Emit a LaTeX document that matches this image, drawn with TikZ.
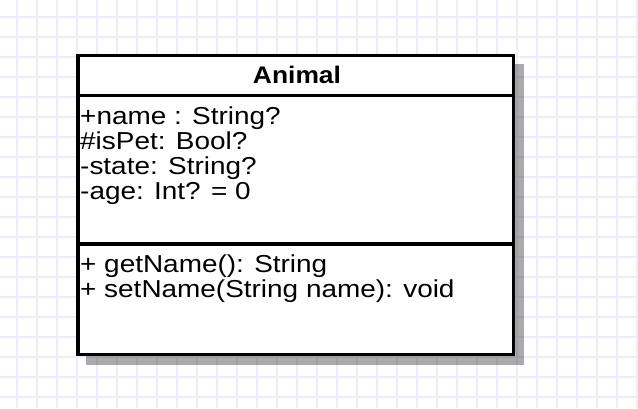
\documentclass[tikz,border=0pt]{standalone}
\usepackage{fontspec}
\setmainfont{Liberation Sans}
\newfontfamily\umlfont[FakeStretch=1.14]{Liberation Sans}
\newfontfamily\umlboldfont[FakeStretch=1.1]{Liberation Sans Bold}
\definecolor{gridc}{RGB}{237,237,252}
\begin{document}
\begin{tikzpicture}[x=1pt,y=-1pt,
  gridline/.style={draw=gridc, line width=1.3pt},
  border/.style={draw=black, line width=3.5pt},
  shadowbox/.style={fill=black, opacity=0.33},
  attr/.style={anchor=base west, inner sep=0pt, font=\umlfont\fontsize{24.5}{25}\selectfont},
  title/.style={anchor=base, inner sep=0pt, font=\umlboldfont\fontsize{24}{26}\selectfont}]
\useasboundingbox (0,0) rectangle (638,408);
\fill[white] (0,0) rectangle (638,408);
\foreach \x in {17,37,...,637} \draw[gridline] (\x,0) -- (\x,408);
\foreach \y in {17,37,...,397} \draw[gridline] (0,\y) -- (638,\y);
\fill[shadowbox] (86,64) rectangle (524,365);
\draw[border, fill=white] (78,55.5) rectangle (513.5,354.5);
\draw[border] (78,95.5) -- (513.5,95.5);
\draw[border] (78,244) -- (513.5,244);
\node[title] (cls) at (297,83) {Animal};
\node[attr] (a1) at (80,124.7) {+name : String?};
\node[attr] (a2) at (80,149.6) {\#isPet: Bool?};
\node[attr] (a3) at (80,174.4) {-state: String?};
\node[attr] (a4) at (80,199.3) {-age: Int? = 0};
\node[attr] (m1) at (80,272.3) {+ getName(): String};
\node[attr] (m2) at (80,297.3) {+ setName(String name): void};
\end{tikzpicture}
\end{document}
